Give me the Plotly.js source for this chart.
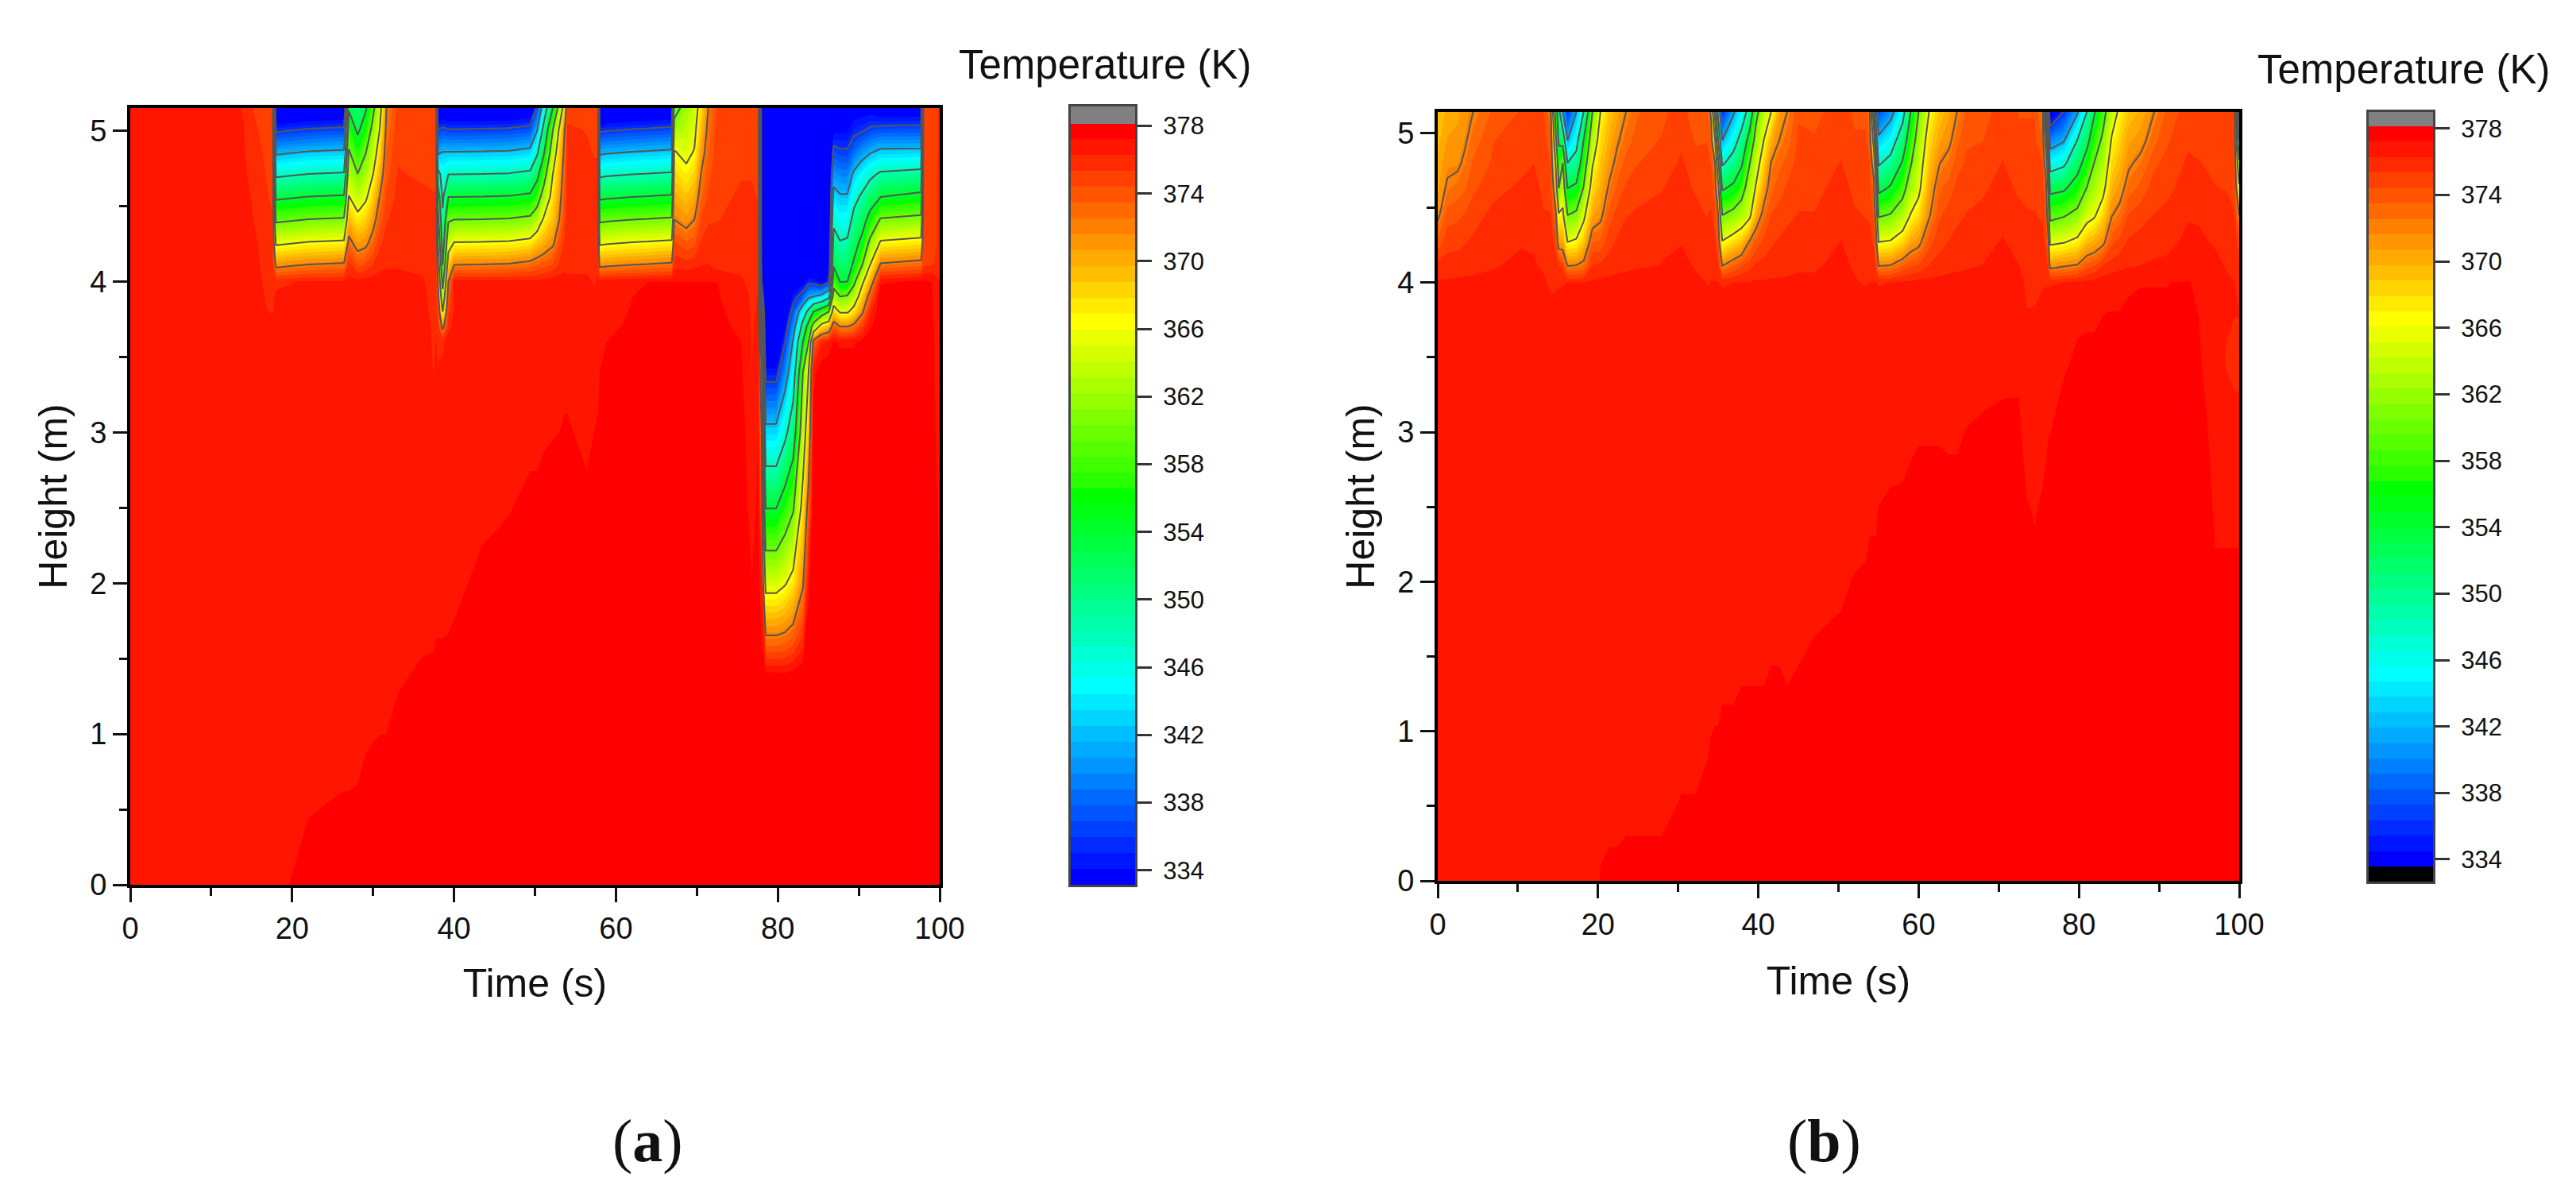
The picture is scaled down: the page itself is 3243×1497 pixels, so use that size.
<!DOCTYPE html>
<html>
<head>
<meta charset="utf-8">
<script src="https://cdn.plot.ly/plotly-3.0.1.min.js"></script>
<style>
body { margin: 0; background: white; }
#chart { width: 3243px; height: 1497px; }
</style>
</head>
<body>
<div id="chart"></div>
<script>
const page_w = 3243
const page_h = 1497

// 48 bands of the temperature scale, coldest first
const band_colors = [
    '#0000ff', '#0015ff', '#002aff', '#0040ff', '#0055ff', '#006aff', '#0080ff', '#0095ff', '#00aaff', '#00bfff', '#00d5ff', '#00eaff',
    '#00ffff', '#00ffea', '#00ffd5', '#00ffbf', '#00ffaa', '#00ff95', '#00ff80', '#00ff6a', '#00ff55', '#00ff40', '#00ff2a', '#00ff15',
    '#00ff00', '#2aff00', '#40ff00', '#55ff00', '#6aff00', '#80ff00', '#95ff00', '#aaff00', '#bfff00', '#d5ff00', '#eaff00', '#ffff00',
    '#ffea00', '#ffd500', '#ffbf00', '#ffaa00', '#ff9500', '#ff8000', '#ff6a00', '#ff5500', '#ff4000', '#ff2a00', '#ff1500', '#ff0000'
]
const temp_ticks = [334, 338, 342, 346, 350, 354, 358, 362, 366, 370, 374, 378]
const line_levels = { start: 336, end: 372, size: 6 }

const heights_a = [0, 0.5, 1, 1.4, 2, 2.5, 3, 3.4, 3.6, 3.7, 3.8, 3.9, 4, 4.11, 4.26, 4.41, 4.56, 4.71, 4.86, 5.01, 5.15]
const times_a = [
    0, 10, 14, 15, 16.8, 17.6, 18, 19.6, 22, 26.2, 26.4, 27, 28.1, 29.1, 30, 30.8, 31.65, 33, 36.1, 37.5, 37.8,
    38, 38.6, 39.3, 40, 43.4, 46.8, 49.4, 50.25, 51.1, 52.2, 53, 53.7, 54, 56.4, 57.3, 57.8,
    58, 58.8, 62, 64, 66.9, 67.2, 68.7, 69.7, 70.5, 71.4, 72.5, 75.5, 76, 76.8, 77.6,
    78, 78.5, 79.8, 80.9, 81.9, 83.1, 83.8, 84.4, 85.4, 86.3, 86.9, 87.7, 88.6, 89.4, 90.4, 91.4, 92.7, 97.7, 98, 99, 100
]
// one profile per time, bottom to top
const temp_a = [
    [376.9,376.9,376.9,376.9,376.9,376.9,376.9,376.9,376.9,376.9,376.9,376.9,376.9,376.9,376.9,376.9,376.9,376.9,376.9,376.9,376.9],
    [376.9,376.9,376.9,376.9,376.9,376.9,376.9,376.9,376.9,376.9,376.9,376.9,376.9,376.9,376.9,376.9,376.9,376.9,376.9,376.9,376.9],
    [376.9,376.9,376.9,376.9,376.9,376.9,376.9,376.9,376.9,376.9,376.9,376.9,376.9,376.7,376.7,376.7,376.7,376.5,376.4,376.3,376.2],
    [376.9,376.9,376.9,376.9,376.9,376.9,376.9,376.9,376.85,376.8,376.75,376.7,376.7,376.6,376.5,376.35,376.2,375.9,375.7,375.5,375.35],
    [376.9,376.9,376.9,376.9,376.9,376.9,376.9,376.8,376.5,376.4,376.3,376.2,376.1,376,375.9,375.7,375.4,375.3,375.2,375.1,375],
    [376.9,376.9,376.9,376.9,376.9,376.9,376.9,376.8,376.6,376.5,376.2,376.1,376,375.8,375.6,375.4,375.2,375.1,375,374.9,374.8],
    [376.9,376.9,376.9,376.9,376.9,376.9,376.9,376.85,376.7,376.6,376.5,376.45,376,371.2,365.2,359.2,353.2,347.2,341.2,335.2,329.6],
    [377.2,377,376.95,376.9,376.9,376.9,376.9,376.85,376.7,376.6,376.5,376.45,376.2,371.6,365.6,359.6,353.6,347.6,341.6,335.6,330],
    [377.38,377.18,377,376.9,376.9,376.9,376.9,376.85,376.7,376.6,376.5,376.45,376.4,372.1,366.1,360.1,354.1,348.1,342.1,336.1,330.5],
    [377.45,377.25,377.05,376.9,376.9,376.9,376.9,376.85,376.7,376.6,376.5,376.45,376.4,372.5,366.5,360.5,354.5,348.5,342.5,336.5,331],
    [377.45,377.25,377.05,376.9,376.9,376.9,376.9,376.85,376.7,376.6,376.5,376.45,376.4,372.5,366.5,360.5,354.5,348.5,342.5,336.5,331],
    [377.45,377.25,377.05,376.9,376.9,376.9,376.9,376.85,376.7,376.6,376.5,376.45,376.5,375.8,372.9,369.6,366.2,363.2,360.4,357,353.5],
    [377.47,377.27,377.07,376.9,376.9,376.9,376.9,376.85,376.7,376.6,376.5,376.45,376.6,374.1,370.6,367.2,363.7,360.1,356.6,353.1,350],
    [377.5,377.35,377.15,377,376.9,376.9,376.9,376.85,376.7,376.6,376.5,376.45,376.7,374.6,371.2,368.4,365.4,362.6,359.8,356.4,353.5],
    [377.55,377.38,377.18,377,376.9,376.8,376.8,376.8,376.7,376.6,376.5,376.5,376.8,375.4,373.2,370.9,368.4,366,363.6,361.4,359],
    [377.58,377.4,377.2,377.05,376.8,376.7,376.6,376.6,376.6,376.6,376.5,376.5,376.6,376,375,373.6,372,370,368,365.9,364],
    [377.6,377.4,377.2,377.05,376.8,376.6,376.5,376.5,376.5,376.5,376.5,376.5,376.5,376.2,375.8,375.2,374.6,374,373.4,372.7,372],
    [377.7,377.5,377.3,377.15,376.9,376.7,376.5,376.5,376.5,376.5,376.5,376.5,376.5,376.2,376,375.8,375.6,375.4,375.2,375,374.8],
    [377.8,377.6,377.4,377.25,377,376.8,376.6,376.5,376.5,376.45,376.4,376.35,376.3,376.2,376,375.7,375.5,375.2,375,374.9,374.8],
    [377.85,377.65,377.45,377.25,377.05,376.85,376.4,376.25,376.2,376.2,376.15,376.15,376.1,376,375.8,375.6,375.4,375.1,375,374.9,374.8],
    [377.85,377.65,377.45,377.3,377.05,376.85,376.6,376.4,376.3,376.2,376.2,376.1,376.1,376,375.8,375.6,375.4,375.1,375,374.9,374.8],
    [377.85,377.65,377.45,377.3,377.05,376.85,376.65,376.4,376,375.8,375,373.5,372,370,366,362,358,350,341,336,330],
    [377.85,377.65,377.45,377.3,377.05,376.85,376.65,376.6,376,371,366,362,358,354,351,349,347,346,342,336.5,331],
    [377.88,377.68,377.48,377.3,377.08,376.88,376.68,376.7,376.7,376,375,373.8,372,368.5,364,359.5,354,348,342,336,331],
    [377.9,377.7,377.5,377.35,377.1,376.9,376.7,376.6,376.5,376.5,376.5,376.5,376.7,372,366,360,354,348,342,336,330.5],
    [378,377.9,377.7,377.55,377.3,377.1,376.9,376.75,376.7,376.7,376.65,376.65,376.6,372.1,366.1,360.1,354.1,348.1,342.1,336.1,330.6],
    [378,378,377.8,377.6,377.38,377.18,376.95,376.8,376.75,376.7,376.7,376.65,376.6,372.3,366.3,360.3,354.3,348.3,342.3,336.3,330.8],
    [378,378,378,377.75,377.5,377.3,377.1,376.9,376.8,376.75,376.7,376.65,376.6,373,367,361,355,349,343,337,331.5],
    [378,378,378,377.75,377.5,377.3,377.1,376.9,376.8,376.75,376.7,376.65,376.5,373.5,368.7,363,357.5,352.5,347,341.5,336.5],
    [378,378,378,377.8,377.55,377.35,377.15,377,376.9,376.8,376.75,376.7,376.6,374,369.9,366.6,362.3,357.9,353.4,349.5,345],
    [378,378,378,377.85,377.6,377.4,377.18,377,376.9,376.85,376.8,376.7,376.8,374.5,371.4,369,367.6,366,363,359.8,354],
    [378,378,378,377.85,377.65,377.4,377.2,377.05,376.95,376.9,376.8,376.75,376.8,375.5,374,372,370.9,369.8,368.6,366.4,362],
    [378,378,378,377.9,377.7,377.45,377.25,377.1,377,376.95,376.9,376.85,376.6,376,375.6,375,374.4,373.8,373,372.3,369],
    [378,378,378,377.9,377.7,377.45,377.25,377.1,377,376.95,376.9,376.85,376.4,376.1,376,375.9,375.8,375.7,375.6,375.4,375.1],
    [378,378,378,377.8,377.5,377.3,377.1,376.9,376.8,376.7,376.6,376.5,376.4,376.1,376,375.9,375.7,375.5,375.4,375.3,375],
    [378,378,378,377.85,377.6,377.4,377.2,377,376.9,376.8,376.7,376.4,376.2,375.9,375.8,375.6,375.5,375.4,375.3,375.2,375],
    [378,378,378,377.9,377.7,377.5,377.25,377.1,377,376.9,376.8,376.6,376.4,375.9,375.8,375.6,375.5,375.4,375.3,375.2,375],
    [378,378,378,378,377.8,377.6,377.35,377.2,377.1,377,376.9,376.8,376.6,371.2,365.2,359.2,353.2,347.2,341.2,335.2,329.6],
    [378,378,378,378,377.85,377.65,377.45,377.28,377.2,377.15,377.1,377.05,376.9,371.5,365.5,359.5,353.5,347.5,341.5,335.5,330],
    [378,378,378,378,377.95,377.75,377.55,377.35,377.27,377.24,377.22,377.2,377.05,372,366,360,354,348,342,336,330.5],
    [378,378,378,378,378,377.8,377.6,377.45,377.38,377.34,377.3,377.25,377.2,372.2,366.2,360.2,354.2,348.2,342.2,336.2,330.7],
    [378,378,378,378,378,377.8,377.6,377.45,377.38,377.34,377.3,377.25,377.2,372.6,366.6,360.6,354.6,348.6,342.6,336.6,331],
    [378,378,378,378,378,377.8,377.6,377.45,377.38,377.34,377.3,377.25,377.2,376,374.5,372,370.2,368.2,366.2,362,358],
    [378,378,378,378,378,377.8,377.6,377.45,377.38,377.34,377.3,377.25,377.2,375.8,373.6,371,369,366.9,365,363.5,362],
    [378,378,378,378,378,377.8,377.6,377.45,377.38,377.34,377.3,377.25,377.2,376,374,372,370.2,368.2,366.2,365,364],
    [378,378,378,378,378,377.8,377.6,377.45,377.38,377.34,377.3,377.25,377.2,376.2,375.4,374.4,373.2,372,370.6,369.2,367.8],
    [378,378,378,378,378,377.8,377.6,377.45,377.38,377.34,377.3,377.25,377.2,376.3,375.8,375.2,374.6,374,373.3,372.7,372],
    [378,378,378,378,378,377.8,377.6,377.45,377.38,377.34,377.3,377.25,377.2,375.9,375.6,375.3,375.2,375.1,375,374.9,374.7],
    [378,378,378,378,377.85,377.65,377.45,377.28,377.2,377.1,377,376.9,376.5,375.8,375.6,375.5,375.4,375.3,375.2,375.1,375],
    [378,378,378,378,377.6,377.4,377.2,377,376.9,376.8,376.7,376.6,376.2,375.8,375.6,375.5,375.4,375.3,375.2,375.1,375],
    [378,378,378,377.5,377.22,376.85,376.27,376.24,376.2,376.15,376.1,376,375.9,375.8,375.6,375.5,375.4,375.3,375.2,375.1,375],
    [378,378,378,378,377.6,377.4,377.2,376.9,376.6,376.5,376.4,376.3,376.1,375.8,375.6,375.5,375.3,375.2,375.1,375,374.8],
    [378,378,378,377.6,376.5,374,372,368,358,352,346,340,336,332,330,330,330,330,330,330,330],
    [378,378,378,377.4,364.6,353.9,343.2,334.6,330.3,330,330,330,330,330,330,330,330,330,330,330,330],
    [378,378,378,377.4,364.6,353.9,343.2,334.6,330.3,330,330,330,330,330,330,330,330,330,330,330,330],
    [378,378,378,377.3,365.7,356.9,346.8,339.8,336,334,332,330,330,330,330,330,330,330,330,330,330],
    [378,378,378,377.6,367.4,359.5,351,345.1,342.4,340.1,337.4,334.6,332,330,330,330,330,330,330,330,330],
    [378,378,378,378,371.6,367.6,363.4,360,354,349.7,345.3,337.7,333,331,330,330,330,330,330,330,330],
    [378,378,378,378,377,373.5,369,366,360,356.3,349.2,341.2,335,331,330,330,330,330,330,330,330],
    [378,378,378,378,378,378,377.8,376.8,373.3,362,354,342,334.8,331,330,330,330,330,330,330,330],
    [378,378,378,378,378,378,378,378,376,368,357,343.3,333,330,330,330,330,330,330,330,330],
    [378,378,378,378,378,378,378,378,376.5,369.4,360,346.5,335.5,332,331,330,330,330,330,330,330],
    [378,378,378,378,378,378,378,378,377.3,374,368.3,362.5,358,353.5,350.1,346.7,343.5,340.2,336.9,333.5,331],
    [378,378,378,378,378,378,378,378,377,372,365.5,360,353.8,351.4,348.2,345.3,342.4,339.4,336.4,333.5,331],
    [378,378,378,378,378,378,378,378,377,372,365.5,360.5,354,351.7,348.6,345.5,342.4,339.4,336.4,333.6,331.5],
    [378,378,378,378,378,378,378,378,377,373,367.6,363,358.9,354.7,352,349.5,346.5,342.8,338.2,335,333],
    [378,378,378,378,378,378,378,378,377.5,375,371.4,368.4,365,359.7,355.2,351.8,348.8,344.9,340.2,335.5,333],
    [378,378,378,378,378,378,378,378,378,377,376,373.5,369.9,366,361,355.8,351.3,347,341.6,336.4,333],
    [378,378,378,378,378,378,378,378,378,378,378,378,377,372.4,366.4,360.4,354,348.7,342.8,336.8,332],
    [378,378,378,378,378,378,378,378,378,378,378,378,377.4,373.2,367.2,361.2,355.2,349.5,342.9,337,332],
    [378,378,378,378,378,378,378,378,378,378,378,378,377.3,375.2,375.1,375.1,375.1,375.1,375,375,375],
    [378,378,378,378,378,377.8,377.6,377.4,377.4,377.4,377.3,377.3,377.2,375.3,375.2,375.2,375.2,375.2,375.1,375.1,375.1],
    [377.6,377.6,377.6,377.6,377.1,377,376.9,376.8,376.8,376.7,376.6,376.5,376.4,375.4,375.4,375.4,375.4,375.4,375.4,375.4,375.4]
]

const heights_b = [0, 0.5, 1, 1.5, 2, 2.5, 3, 3.5, 3.8, 4, 4.11, 4.27, 4.45, 4.63, 4.8, 4.95, 5.14]
const times_b = [
    0, 1.2, 2.5, 3.4, 4.4, 7, 10.4, 12, 13.2, 14.1, 14.7, 15.1, 15.6, 16.2, 17.3, 18.2, 19.3, 20.3, 21.4, 22.4, 23.5, 25, 28, 30.4, 32.2, 33.6,
    34.1, 34.6, 35, 35.5, 36.9, 37.9, 38.9, 39.7, 40.7, 41.6, 42.6, 43.6, 45, 47, 50.3, 52, 53.4,
    53.9, 54.4, 54.7, 55, 56.5, 58, 59, 60, 61.3, 62.6, 63.8, 64.8, 66, 68, 70.5, 72.5, 73.5, 74.5,
    75.5, 75.9, 76.2, 76.4, 78.1, 79.8, 81, 81.9, 83, 84.1, 85.1, 86.2, 87.7, 89.4, 91, 93.6, 95, 97, 98.5, 99.4, 100
]
const temp_b = [
    [376.9,376.9,376.9,376.9,376.9,376.9,376.9,376.8,376.7,376.4,375.8,373.8,371.5,370.5,370,369.5,369],
    [376.9,376.9,376.9,376.9,376.9,376.9,376.9,376.8,376.7,376.4,375.8,375,374,372.4,371.4,370.8,370],
    [376.9,376.9,376.9,376.9,376.9,376.9,376.9,376.8,376.7,376.5,375.8,375.1,374.2,373,371.5,371,370.5],
    [376.9,376.9,376.9,376.9,376.9,376.9,376.9,376.8,376.7,376.5,375.9,375.3,374.5,373.4,372.5,371.7,371.2],
    [376.9,376.9,376.9,376.9,376.9,376.9,376.9,376.8,376.7,376.5,376,375.5,375,374.2,373.6,373,372],
    [376.9,376.9,376.9,376.9,376.9,376.9,376.9,376.8,376.7,376.6,376.2,376,375.6,375.1,374.6,374.4,373.8],
    [376.9,376.9,376.9,376.9,376.9,376.9,376.9,376.8,376.7,376.8,376.5,376.2,375.9,375.5,375.1,374.9,374.5],
    [376.9,376.9,376.9,376.9,376.9,376.9,376.9,376.8,376.7,376.8,376.4,376.15,375.9,375.6,375.34,375,374.6],
    [376.9,376.9,376.9,376.9,376.9,376.9,376.9,376.8,376.7,376.5,376.1,375.8,375.4,375.2,374.9,374.7,374.5],
    [376.9,376.9,376.9,376.9,376.9,376.9,376.9,376.8,376.7,376,375.9,375.7,375.4,375,374.4,374,372.5],
    [376.9,376.9,376.9,376.9,376.9,376.9,376.9,376.8,376.7,376.1,375.8,375,373,369.5,366,362,358],
    [376.9,376.9,376.9,376.9,376.9,376.9,376.9,376.8,376.7,376.2,375.5,370.5,366.5,360,357,353,350],
    [376.9,376.9,376.9,376.9,376.9,376.9,376.9,376.8,376.7,376.2,375,370.6,367,363.4,360,352,342],
    [376.9,376.9,376.9,376.9,376.9,376.9,376.9,376.8,376.7,376.3,372,366,360,354,348,342,336.5],
    [376.9,376.9,376.9,376.9,376.9,376.9,376.9,376.8,376.7,376.3,372.2,366.7,361,355,350,346.2,342],
    [376.9,376.9,376.9,376.9,376.9,376.9,376.9,376.8,376.7,376.3,372.8,369,365,360.3,357,354,348],
    [376.9,376.9,376.9,376.9,376.9,376.9,376.9,376.8,376.7,376.4,375.5,373.5,370.5,368,365.6,363,360],
    [377.25,377.05,376.9,376.9,376.9,376.9,376.9,376.8,376.7,376.5,375.6,373.7,371.4,370,369,367.8,366],
    [377.3,377.1,376.95,376.9,376.9,376.9,376.9,376.8,376.7,376.6,375.8,375,374,372.4,371,370,369],
    [377.3,377.1,376.95,376.9,376.9,376.9,376.9,376.8,376.7,376.6,376,375.5,374.8,373.8,372.7,371.7,370.4],
    [377.3,377.15,376.95,376.9,376.9,376.9,376.9,376.8,376.7,376.6,376.1,375.8,375.3,374.6,373.9,373,372],
    [377.3,377.15,376.95,376.9,376.9,376.9,376.9,376.8,376.7,376.7,376.2,376,375.5,375,374.4,374,373.4],
    [377.3,377.15,377,376.9,376.9,376.9,376.9,376.8,376.7,376.7,376.3,376.2,375.7,375.3,374.8,374.5,374.2],
    [377.4,377.23,377.1,376.95,376.9,376.9,376.9,376.8,376.7,376.7,376.5,376.25,376,375.8,375.5,375.2,374.9],
    [377.4,377.23,377.1,376.95,376.9,376.9,376.9,376.8,376.7,376.5,376.2,376,375.7,375.2,374.8,374.3,373.7],
    [377.45,377.3,377.15,377,376.85,376.8,376.8,376.7,376.5,376.25,376.1,375.9,375.3,375,374.6,374.4,374],
    [377.5,377.35,377.2,377.05,376.9,376.8,376.8,376.7,376.5,376.3,376.1,375.9,375.5,375,374.4,373.5,371.5],
    [377.5,377.35,377.22,377.07,376.9,376.8,376.8,376.7,376.5,376.3,376,375.5,374.8,373.8,372,366,358],
    [377.5,377.35,377.22,377.07,376.9,376.8,376.8,376.7,376.5,376.3,375.6,374,372,367,361,354,346],
    [377.55,377.4,377.27,377.1,376.97,376.85,376.75,376.7,376.6,376.2,372,366.3,360,353.5,347.3,342,336],
    [377.55,377.4,377.27,377.1,376.97,376.85,376.75,376.7,376.6,376.3,373.5,368,361.5,355,350,346,341.5],
    [377.6,377.45,377.3,377.15,377,376.85,376.75,376.7,376.6,376.3,374.4,369.2,363,357.7,353.2,349.8,345],
    [377.6,377.45,377.3,377.15,377,376.85,376.75,376.7,376.6,376.3,375,372.3,365,362.7,359.7,356,350],
    [377.6,377.45,377.3,377.15,377,376.85,376.75,376.7,376.6,376.4,375.6,373.9,370,366.4,364,361.8,358.5],
    [377.6,377.45,377.3,377.15,377,376.85,376.75,376.7,376.6,376.4,375.7,374.7,373,370.7,368.3,366.1,363.5],
    [377.6,377.5,377.35,377.19,377.05,376.9,376.8,376.7,376.6,376.4,375.9,375.2,374.5,373.2,372.1,370,366],
    [377.6,377.5,377.35,377.19,377.05,376.9,376.8,376.7,376.6,376.4,376,375.5,374.8,374,373.2,372,370.5],
    [377.6,377.45,377.3,377.15,377,376.85,376.8,376.7,376.6,376.4,376.1,375.7,375.1,374.6,373.8,373,372],
    [377.6,377.5,377.35,377.19,377.05,376.9,376.8,376.7,376.6,376.4,376.2,375.8,375.4,375.1,374.8,374.6,374.3],
    [377.7,377.55,377.4,377.25,377.1,376.95,376.8,376.7,376.6,376.4,376.2,375.9,375.4,375,374.7,374.5,374.2],
    [377.75,377.6,377.45,377.3,377.15,377,376.85,376.8,376.7,376.6,376.45,376.3,376,375.8,375.4,375.15,374.8],
    [377.8,377.65,377.5,377.35,377.23,377.05,376.93,376.8,376.7,376.35,376.2,376,375.5,375.1,374.7,374.5,374.3],
    [377.85,377.7,377.55,377.4,377.25,377.1,376.95,376.8,376.7,376.2,376,375.7,375.3,375,374.8,374.5,374.3],
    [377.9,377.75,377.6,377.45,377.3,377.15,377,376.85,376.75,376.3,376,375.7,375.2,374.9,374.5,373.7,372],
    [377.9,377.75,377.6,377.45,377.3,377.15,377,376.85,376.75,376.3,375.9,375.2,374.3,373.2,370,364,356],
    [377.9,377.75,377.6,377.45,377.3,377.15,377,376.85,376.75,376.3,375,373,370.5,366,360,352,344],
    [377.95,377.8,377.65,377.5,377.35,377.21,377.06,376.9,376.8,376.2,372,366,359.5,352.7,347.4,343,337.5],
    [378,377.85,377.7,377.55,377.4,377.25,377.1,376.95,376.85,376.3,372.2,366.4,360.3,354.6,349.5,345.4,340.5],
    [378,377.85,377.7,377.55,377.4,377.26,377.1,376.96,376.85,376.5,373.6,368.2,362.9,358.2,354.4,351,346],
    [378,377.9,377.75,377.6,377.45,377.3,377.15,377,376.9,376.5,374.3,370.4,366.2,362.6,359.5,357,354],
    [378,377.95,377.8,377.65,377.5,377.34,377.18,377.03,376.95,376.6,374.6,371.3,367.9,365,363.8,362.2,360],
    [378,377.95,377.8,377.65,377.5,377.34,377.18,377.03,376.95,376.6,375.4,374,371.7,370.5,369,368,366],
    [378,377.95,377.8,377.65,377.5,377.34,377.18,377.03,376.95,376.6,375.8,375,374.3,373.3,371.9,370.5,369],
    [378,377.9,377.75,377.6,377.45,377.3,377.17,377,376.9,376.6,376,375.4,374.8,374,372.8,371.5,370.5],
    [378,377.9,377.75,377.6,377.45,377.3,377.17,377,376.9,376.6,376.1,375.7,375.1,374.7,374,373.2,372],
    [378,377.95,377.8,377.65,377.5,377.35,377.22,377.05,376.95,376.6,376.2,375.8,375.4,375,374.6,374.3,373.8],
    [378,378,377.85,377.7,377.55,377.4,377.25,377.1,377,376.5,376.3,376,375.6,375.2,374.8,374.4,374.1],
    [378,378,377.9,377.75,377.6,377.45,377.28,377.12,377,376.7,376.5,376.35,376,375.7,375.4,375.1,374.8],
    [378,378,377.9,377.75,377.6,377.45,377.28,377.13,376.9,376.5,376.3,376,375.6,375.2,374.7,374.5,374.4],
    [377.95,377.8,377.65,377.5,377.35,377.23,377.05,376.9,376.3,376.15,376,375.8,375.5,375,374.7,374.5,374.4],
    [377.9,377.75,377.6,377.45,377.3,377.18,377,376.85,376.3,376.2,376,375.8,375.4,375,374.7,374.5,374.4],
    [377.95,377.8,377.65,377.5,377.35,377.25,377.1,376.9,376.6,376.2,376,375.7,375.2,374.9,374.5,373.6,372],
    [378,377.9,377.75,377.6,377.45,377.3,377.15,377,376.7,376.2,375.9,375,374,373,369.5,363,354],
    [378,377.95,377.8,377.65,377.5,377.35,377.2,377,376.8,376.2,375,372.5,369,364,358,350,341],
    [378,377.95,377.8,377.65,377.5,377.35,377.2,377,376.8,376.2,371.2,365.3,358.6,352.7,345.4,339.8,332],
    [378,378,377.95,377.8,377.65,377.5,377.35,377.15,377,376.3,371.9,365.8,359.6,353.3,347,341.6,336.2],
    [378,378,378,377.95,377.8,377.65,377.5,377.25,377.15,376.5,372.3,367,361.3,356.3,351.9,348.1,341.5],
    [378,378,378,378,377.85,377.7,377.5,377.26,377.17,376.6,374,369.4,364.6,360.2,356.2,352.6,348],
    [378,378,378,378,377.85,377.7,377.5,377.26,377.17,376.6,374.4,370.1,365.5,362.7,360,357,353.5],
    [378,378,378,378,377.9,377.75,377.55,377.3,377.2,376.8,375.5,371.4,368.2,364.8,362.8,361,358],
    [378,378,378,378,377.95,377.8,377.6,377.35,377.22,376.9,375.8,374.2,371.9,369.8,368,366.4,364],
    [378,378,378,378,377.95,377.8,377.6,377.35,377.22,377,376,374.8,372.8,371,369.5,368.5,366.8],
    [378,378,378,378,378,377.85,377.65,377.35,377.24,377.18,376.2,375.5,374.5,373,371.6,370.5,369],
    [378,378,378,378,378,377.85,377.7,377.4,377.26,377.2,376.3,375.7,375,373.8,372.6,371.2,370],
    [378,378,378,378,378,377.85,377.7,377.4,377.26,377.2,376.4,376,375.4,374.9,374.2,373.2,372],
    [378,378,378,378,378,377.85,377.7,377.4,377.26,377.2,376.5,376,375.6,375.1,374.7,374.3,373.8],
    [378,378,378,378,378,377.85,377.7,377.4,377.26,377.25,376.7,376.5,376.2,375.8,375.5,375.2,374.9],
    [378,378,378,378,378,377.8,377.6,377.3,377.2,377.1,376.6,376.4,376.2,375.8,375.4,375.1,374.8],
    [378,378,378,377.8,377.3,377.1,376.9,376.6,376.5,376.5,376.5,376.2,375.8,375.4,375.1,375,374.7],
    [378,378,378,377.8,377.3,377.1,376.6,376.2,376.4,376.4,376.2,376.1,375.7,375.3,375,374.8,374.5],
    [378,378,378,377.8,377.3,377.1,376.5,376.1,376.3,376.3,376,375.7,375.4,375.1,374.9,374.7,374.5],
    [378,378,378,377.8,377.3,377.1,376.5,376.1,376.3,376,375.5,375,372,367,361,354,346]
]

function transpose_array(matrix) {
    let output = []
    for (let j = 0; j < matrix[0].length; j++) {
        output.push(matrix.map(col => col[j]))
    }
    return output
}

function px_x(x) { return x / page_w }
function px_y(y) { return 1 - y / page_h }

function band_scale(colors) {
    return colors.map((c, i) => [i / (colors.length - 1), c])
}

function field_traces(times, heights, temps, bottom, band, xa, ya) {
    let z = transpose_array(temps)
    let fill = {
        type: 'contour', x: times, y: heights, z: z, xaxis: xa, yaxis: ya,
        autocontour: false,
        contours: { coloring: 'fill', showlines: false, start: bottom + band, end: bottom + 47 * band, size: band },
        line: { width: 0, smoothing: 0 },
        colorscale: band_scale(band_colors), showscale: false, hoverinfo: 'skip'
    }
    let lines = {
        type: 'contour', x: times, y: heights, z: z, xaxis: xa, yaxis: ya,
        autocontour: false,
        contours: { coloring: 'none', start: line_levels.start, end: line_levels.end, size: line_levels.size },
        line: { color: '#555555', width: 2, smoothing: 0 },
        showscale: false, hoverinfo: 'skip'
    }
    return [fill, lines]
}

// legend bar is a one column heatmap so the caps can have their own colours
function legend_trace(bottom, band, low_cap, top_cap, xa, ya) {
    let edges = []
    let colors = []
    if (low_cap) { edges.push(low_cap.from); colors.push(low_cap.color) }
    for (let i = 0; i < band_colors.length; i++) {
        edges.push(bottom + i * band)
        colors.push(band_colors[i])
    }
    edges.push(bottom + band_colors.length * band)
    edges.push(top_cap.to)
    colors.push(top_cap.color)
    return {
        type: 'heatmap', x: [0, 1], y: edges, z: colors.map((c, i) => [i]),
        zmin: 0, zmax: colors.length - 1, colorscale: band_scale(colors),
        showscale: false, hoverinfo: 'skip', xaxis: xa, yaxis: ya
    }
}

const font = 'Liberation Sans, Arial, sans-serif'

function main_axes(x0, x1, y0, y1, anchor_x, anchor_y, range_y, time_standoff) {
    let common = {
        showline: true, mirror: true, linecolor: 'black', linewidth: 4, showgrid: false, zeroline: false,
        ticks: 'outside', tickwidth: 3, ticklen: 18, tickcolor: '#111',
        tickfont: { family: font, size: 38, color: '#111' }
    }
    let xaxis = Object.assign({}, common, {
        domain: [px_x(x0), px_x(x1)], range: [0, 100], anchor: anchor_y, tick0: 0, dtick: 20,
        minor: { dtick: 10, ticks: 'outside', ticklen: 10, tickwidth: 3, tickcolor: '#111' },
        title: { text: 'Time (s)', font: { family: font, size: 50, color: '#111' }, standoff: time_standoff }
    })
    let yaxis = Object.assign({}, common, {
        domain: [px_y(y0), px_y(y1)], range: range_y, anchor: anchor_x, tick0: 0, dtick: 1,
        minor: { dtick: 0.5, ticks: 'outside', ticklen: 10, tickwidth: 3, tickcolor: '#111' },
        title: { text: 'Height (m)', font: { family: font, size: 50, color: '#111' }, standoff: 14 }
    })
    return [xaxis, yaxis]
}

function legend_axes(x0, x1, y0, y1, anchor_x, anchor_y, range_y) {
    let xaxis = {
        domain: [px_x(x0), px_x(x1)], range: [0, 1], anchor: anchor_y, showticklabels: false, ticks: '',
        showline: true, mirror: true, linecolor: '#444', linewidth: 3, showgrid: false, zeroline: false
    }
    let yaxis = {
        domain: [px_y(y0), px_y(y1)], range: range_y, anchor: anchor_x, side: 'right', tickvals: temp_ticks,
        showline: true, mirror: true, linecolor: '#444', linewidth: 3, showgrid: false, zeroline: false,
        ticks: 'outside', ticklen: 18, tickwidth: 3, tickcolor: '#333',
        tickfont: { family: font, size: 31, color: '#111' }, ticklabelstandoff: 8
    }
    return [xaxis, yaxis]
}

function text_note(text, x, y, size, family) {
    return {
        text: text, xref: 'paper', yref: 'paper', x: px_x(x), y: px_y(y), showarrow: false,
        xanchor: 'center', yanchor: 'middle', font: { family: family, size: size, color: '#111' }
    }
}

function draw_chart() {
    let bottom_a = 333.14, band_a = 0.9375
    let bottom_b = 333.57, band_b = 0.9285

    let data = [
        ...field_traces(times_a, heights_a, temp_a, bottom_a, band_a, 'x', 'y'),
        legend_trace(bottom_a, band_a, null, { to: 379.15, color: '#808080' }, 'x2', 'y2'),
        ...field_traces(times_b, heights_b, temp_b, bottom_b, band_b, 'x3', 'y3'),
        legend_trace(bottom_b, band_b, { from: 332.66, color: '#000000' }, { to: 379.0, color: '#808080' }, 'x4', 'y4')
    ]

    let [xa, ya] = main_axes(164, 1183, 1114, 136, 'x', 'y', [0, 5.15], 32)
    let [xa2, ya2] = legend_axes(1348, 1429, 1114, 134, 'x2', 'y2', [333.14, 379.15])
    let [xb, yb] = main_axes(1810, 2819, 1109, 141, 'x3', 'y3', [0, 5.14], 34)
    let [xb2, yb2] = legend_axes(2982, 3063, 1110, 141, 'x4', 'y4', [332.66, 379.0])

    let layout = {
        width: page_w, height: page_h,
        margin: { l: 0, r: 0, t: 0, b: 0 },
        paper_bgcolor: 'white', plot_bgcolor: 'white', showlegend: false,
        xaxis: xa, yaxis: ya, xaxis2: xa2, yaxis2: ya2, xaxis3: xb, yaxis3: yb, xaxis4: xb2, yaxis4: yb2,
        annotations: [
            text_note('Temperature (K)', 1391, 82, 51, font),
            text_note('Temperature (K)', 3026, 88, 51, font),
            text_note('(<b>a</b>)', 815, 1436, 76, 'Liberation Serif, Times New Roman, serif'),
            text_note('(<b>b</b>)', 2296, 1436, 76, 'Liberation Serif, Times New Roman, serif')
        ]
    }
    Plotly.newPlot('chart', data, layout, { displayModeBar: false, responsive: false })
}

document.addEventListener('DOMContentLoaded', draw_chart)
</script>
</body>
</html>
